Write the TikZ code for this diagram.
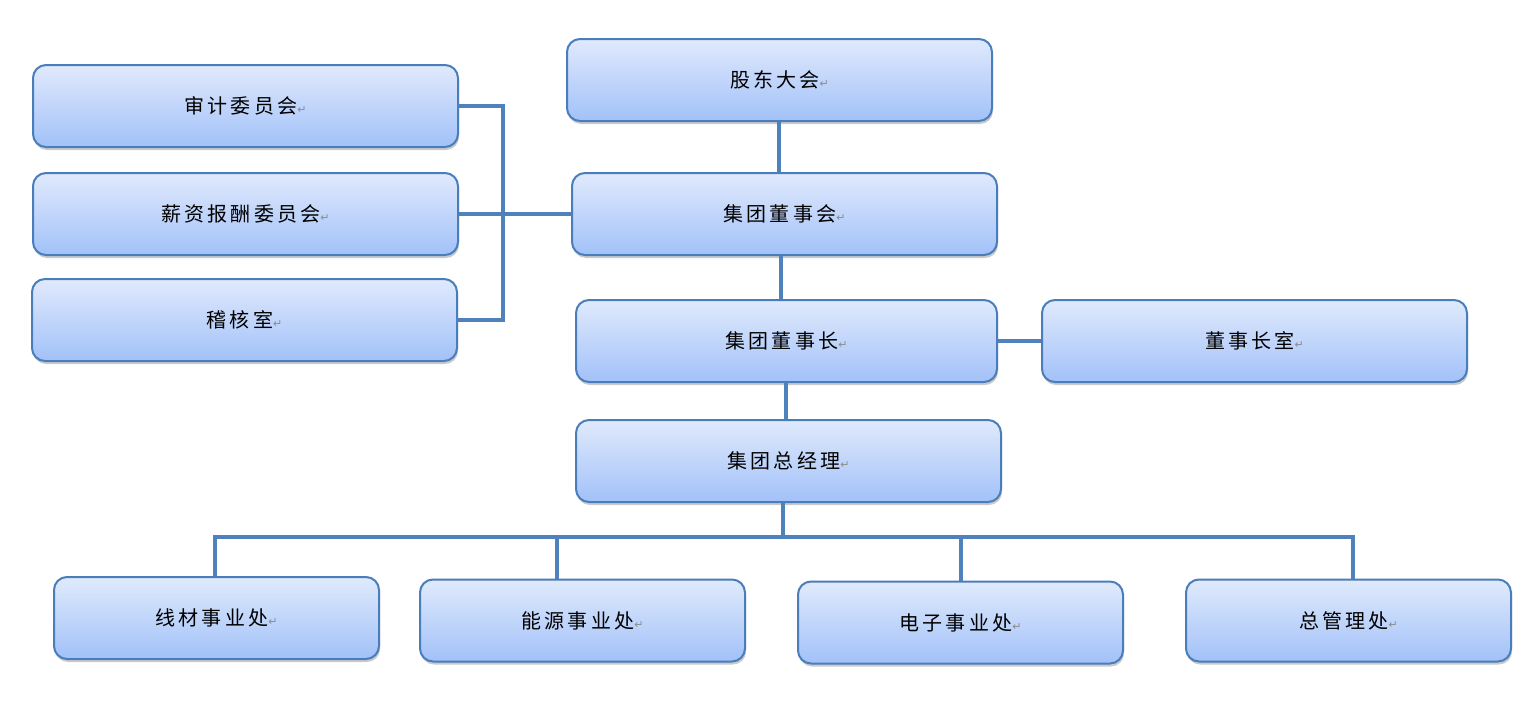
\documentclass[tikz,border=0pt]{standalone}
\usepackage{fontspec}
\newfontfamily\cjk[LetterSpace=16]{Noto Sans CJK SC}
\newfontfamily\symf{DejaVu Sans}
\usetikzlibrary{shadows}
\definecolor{bdr}{HTML}{4A7EBB}
\definecolor{topc}{HTML}{E0EAFC}
\definecolor{botc}{HTML}{A2C1F9}
\definecolor{lnc}{HTML}{4F81BD}
\newcommand{\pmark}{{\symf\fontsize{11}{11}\selectfont\color{black!45}↵}}
\tikzset{
  orgbox/.style={draw=bdr, line width=2pt, rounded corners=13pt,
    top color=topc, bottom color=botc, minimum height=82pt, inner sep=0pt,
    drop shadow={shadow xshift=1pt, shadow yshift=-3pt, opacity=0.35, fill=black!60},
    font=\cjk\fontsize{20}{20}\selectfont},
  wide/.style={orgbox, minimum width=425pt},
  narrow/.style={orgbox, minimum width=325pt},
  conn/.style={draw=lnc, line width=4pt}
}
\begin{document}
\begin{tikzpicture}[x=1pt,y=-1pt]
\useasboundingbox (0,0) rectangle (1537,702);
\node[wide] (gd) at (779.5,80) {股东大会\pmark};
\node[wide] (sj) at (245.5,106) {审计委员会\pmark};
\node[wide] (xz) at (245.5,214) {薪资报酬委员会\pmark};
\node[wide] (jh) at (244.5,320) {稽核室\pmark};
\node[wide] (dsh) at (784.5,214) {集团董事会\pmark};
\node[orgbox, minimum width=421pt] (dsz) at (786.5,341) {集团董事长\pmark};
\node[wide] (dszs) at (1254.5,341) {董事长室\pmark};
\node[wide] (zjl) at (788.5,461) {集团总经理\pmark};
\node[narrow] (xc) at (216.5,618) {线材事业处\pmark};
\node[narrow] (ny) at (582.5,620.5) {能源事业处\pmark};
\node[narrow] (dz) at (960.5,622.5) {电子事业处\pmark};
\node[narrow] (zg) at (1348.5,620.5) {总管理处\pmark};
\coordinate (bus) at (0,537);
\draw[conn] ([xshift=-0.5pt]gd.south) -- ([xshift=-0.5pt]gd.south |- dsh.north);
\draw[conn] ([xshift=-3.5pt]dsh.south) -- ([xshift=-3.5pt]dsh.south |- dsz.north);
\draw[conn] ([xshift=-0.5pt]dsz.south) -- ([xshift=-0.5pt]dsz.south |- zjl.north);
\draw[conn] ([xshift=-2pt]sj.east) -- ++(46,0) |- ([xshift=-2pt]jh.east);
\draw[conn] (xz.east) -- (dsh.west);
\draw[conn] (dsz.east) -- (dszs.west);
\draw[conn] ([xshift=-5.5pt]zjl.south) -- ([xshift=-5.5pt]zjl.south |- bus);
\draw[conn] ([xshift=-1.5pt]xc.north) -- ([xshift=-1.5pt]xc.north |- bus) -- ([xshift=4.5pt]zg.north |- bus) -- ([xshift=4.5pt]zg.north);
\draw[conn] ([xshift=-25.5pt]ny.north) -- ([xshift=-25.5pt]ny.north |- bus);
\draw[conn] (dz.north) -- (dz.north |- bus);
\end{tikzpicture}
\end{document}
